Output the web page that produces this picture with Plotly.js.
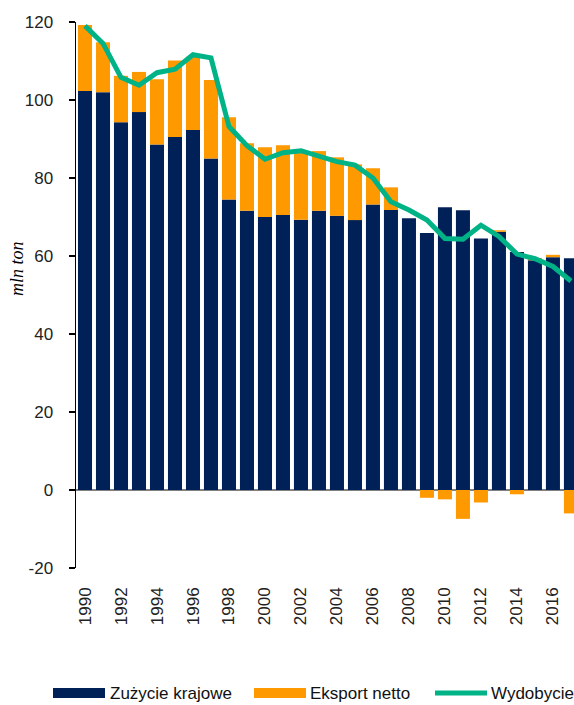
<!DOCTYPE html>
<html>
<head>
<meta charset="utf-8">
<script src="https://cdn.plot.ly/plotly-3.0.1.min.js"></script>
<style>
html,body{margin:0;padding:0;background:#fff;}
#chart{width:574px;height:705px;}
</style>
</head>
<body>
<div id="chart"></div>
<script>
var years = [1990,1991,1992,1993,1994,1995,1996,1997,1998,1999,2000,2001,2002,2003,2004,2005,2006,2007,2008,2009,2010,2011,2012,2013,2014,2015,2016,2017];
var zuzycie = [102.3,102.0,94.3,96.9,88.6,90.5,92.3,85.0,74.5,71.6,70.0,70.5,69.3,71.6,70.3,69.2,73.2,71.8,69.7,65.9,72.5,71.7,64.5,66.2,61.0,58.9,59.7,59.4];
var eksport = [16.9,12.8,11.9,10.3,16.7,19.6,18.8,20.1,21.1,17.3,17.9,17.9,17.7,15.3,15.0,14.3,9.3,5.8,0,-2.0,-2.4,-7.4,-3.2,0.4,-1.1,0.6,0.6,-6.0];
var wydobycie = [119.0,114.5,105.8,103.8,107.0,107.9,111.6,110.8,93.2,88.3,84.8,86.5,87.0,85.5,84.2,83.3,80.0,73.9,71.8,69.2,64.5,64.3,67.9,65.0,60.5,59.3,57.3,53.6];
var xTicks = [1990,1992,1994,1996,1998,2000,2002,2004,2006,2008,2010,2012,2014,2016];
var yTicks = [-20,0,20,40,60,80,100,120];
var names = ['Zużycie krajowe','Eksport netto','Wydobycie'];

var NAVY = '#002158', ORANGE = '#FF9900', GREEN = '#00B386';
var FONT = 'Liberation Sans, Arial, sans-serif';
var FS = 17;

var L = 76, T = 22, W = 498, H = 546;
function px(x){ return (x - L) / W; }
function py(y){ return (T + H - y) / H; }

var traces = [
  {type:'bar', x:years, y:zuzycie, name:names[0], marker:{color:NAVY}, showlegend:false, hoverinfo:'x+y'},
  {type:'bar', x:years, y:eksport, name:names[1], marker:{color:ORANGE}, showlegend:false, hoverinfo:'x+y'},
  {type:'scatter', mode:'lines', x:years, y:wydobycie, name:names[2], line:{color:GREEN, width:5}, showlegend:false}
];

var legY = 693;
var shapes = [
  {type:'rect', xref:'paper', yref:'paper', x0:px(53), x1:px(105), y0:py(698), y1:py(688), fillcolor:NAVY, line:{width:0}},
  {type:'rect', xref:'paper', yref:'paper', x0:px(254), x1:px(306), y0:py(698), y1:py(688), fillcolor:ORANGE, line:{width:0}},
  {type:'line', xref:'paper', yref:'paper', x0:px(435), x1:px(487), y0:py(legY), y1:py(legY), line:{color:GREEN, width:5}}
];

var annotations = [
  {xref:'paper', yref:'paper', x:px(17), y:py(269), xanchor:'center', yanchor:'middle', text:'<i>mln ton</i>', textangle:-90, showarrow:false,
   font:{family:'Liberation Serif, DejaVu Serif, serif', size:18, color:'#000'}},
  {xref:'paper', yref:'paper', x:px(108), y:py(legY), xanchor:'left', yanchor:'middle', text:names[0], showarrow:false,
   font:{family:FONT, size:FS, color:'#111'}},
  {xref:'paper', yref:'paper', x:px(308), y:py(legY), xanchor:'left', yanchor:'middle', text:names[1], showarrow:false,
   font:{family:FONT, size:FS, color:'#111'}},
  {xref:'paper', yref:'paper', x:px(489), y:py(legY), xanchor:'left', yanchor:'middle', text:names[2], showarrow:false,
   font:{family:FONT, size:FS, color:'#111'}}
];

var layout = {
  width:574, height:705,
  margin:{l:L, r:0, t:T, b:705-T-H, pad:0},
  paper_bgcolor:'#fff', plot_bgcolor:'#fff',
  barmode:'relative', bargap:0.22,
  showlegend:false,
  font:{family:FONT, size:FS, color:'#222'},
  xaxis:{range:[1989.5, 2017.17], tickvals:xTicks, ticktext:xTicks.map(String), tickangle:-90,
         showgrid:false, zeroline:false, showline:false, ticks:'', ticklabelstandoff:15,
         tickfont:{family:FONT, size:FS, color:'#222'}, fixedrange:true},
  yaxis:{range:[-20,120], tickvals:yTicks, ticktext:yTicks.map(String), showgrid:false,
         showline:true, linecolor:'#000', linewidth:1.5, ticks:'outside', ticklen:6, tickcolor:'#000', tickwidth:1.5,
         zeroline:true, zerolinecolor:'#808080', zerolinewidth:2.5, ticklabelstandoff:12,
         tickfont:{family:FONT, size:FS, color:'#222'}, fixedrange:true},
  shapes:shapes,
  annotations:annotations
};

Plotly.newPlot('chart', traces, layout, {displayModeBar:false, staticPlot:true});
</script>
</body>
</html>
